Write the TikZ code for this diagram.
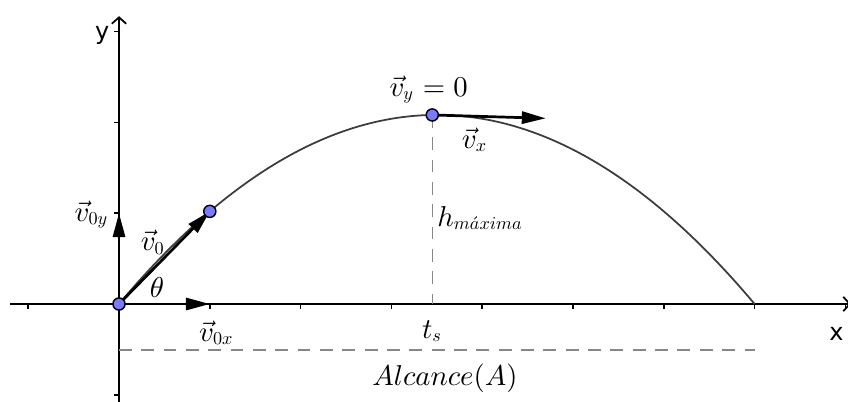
\documentclass[tikz,border=0pt]{standalone}
\usepackage[no-math]{fontspec}
\newfontfamily\axfont{DejaVu Sans}
\usetikzlibrary{arrows.meta}
\DeclareFontShape{OML}{cmm}{m}{it}{<->cmmi10}{}
\DeclareFontShape{OT1}{cmr}{m}{n}{<->cmr10}{}
\DeclareMathSizes{9}{9}{5.7}{4.5}
\definecolor{ptblue}{RGB}{122,122,255}
\definecolor{curvegray}{RGB}{60,60,60}
\definecolor{dashgray}{RGB}{135,135,135}
\tikzset{
  axis/.style={line width=0.55pt,black},
  axarrow/.style={-{Straight Barb[length=2pt,width=4.5pt,line width=0.55pt]}},
  tick/.style={line width=0.55pt,black},
  vec/.style={line width=0.85pt,black,-{Triangle[length=7.5pt,width=3.8pt]}},
  curve/.style={line width=0.55pt,curvegray},
  guide/.style={line width=0.45pt,dashgray,dash pattern=on 4pt off 3pt},
  pt/.style={circle,draw=black,line width=0.45pt,fill=ptblue,minimum size=3.8pt,inner sep=0pt},
  lab/.style={font=\fontsize{9}{11}\selectfont,inner sep=0pt},
  axlab/.style={font=\axfont\fontsize{7.5}{9}\selectfont,inner sep=0pt}
}
\begin{document}
\begin{tikzpicture}
\useasboundingbox (-1.3106,-1.0683) rectangle (8.0286,3.3480);
% axes
\coordinate (xl) at (-1.2,0);
\coordinate (xr) at (8.06,0);
\coordinate (yb) at (0,-1.1);
\coordinate (yt) at (0,3.17);
\draw[axis,axarrow] (xl) -- (xr);
\draw[axis,axarrow] (yb) -- (yt);
\foreach \i in {-1,1,2,3,4,5,6,7,8}{
  \draw[tick] (\i,0) -- (\i,-0.055);
}
\foreach \j in {-1,1,2,3}{
  \draw[tick] (0,\j) -- (-0.055,\j);
}
\node[axlab] (ylab) at (-0.185,2.96) {y};
\node[axlab] (xlab) at (7.90,-0.33) {x};
% key points
\coordinate (O) at (0,0);
\coordinate (P0) at (1,1.02);
\coordinate (Pk) at (3.45,2.082);
\coordinate (Vx) at (4.70,2.045);
\coordinate (V0y) at (0,1);
\coordinate (V0x) at (1,0);
\coordinate (Ts) at (3.45,0);
\coordinate (Ra) at (0,-0.507);
\coordinate (Rb) at (7.0,-0.507);
% guides
\draw[guide] (Pk) -- (Ts);
\draw[guide] (Ra) -- (Rb);
% trajectory
\draw[curve] plot[domain=0:7,samples=120,smooth] (\x,{0.17*\x*(7-\x)});
% vectors
\draw[vec] (O) -- (V0y);
\draw[vec] (O) -- (V0x);
\draw[vec] (O) -- (P0);
\draw[vec] (Pk) -- (Vx);
% points
\node[pt] (o) at (O) {};
\node[pt] (p0) at (P0) {};
\node[pt] (pk) at (Pk) {};
% labels
\node[lab] (lv0y) at (-0.30,0.99) {$\vec{v}_{0y}$};
\node[lab] (lv0) at (0.375,0.68) {$\vec{v}_{0}$};
\node[lab] (lth) at (0.42,0.18) {$\theta$};
\node[lab] (lv0x) at (1.075,-0.32) {$\vec{v}_{0x}$};
\node[lab] (lts) at (3.45,-0.30) {$t_s$};
\node[lab] (lvy) at (3.41,2.36) {$\vec{v}_y=0$};
\node[lab] (lvx) at (3.92,1.81) {$\vec{v}_x$};
\node[lab,anchor=west] (lh) at (3.50,0.95) {$h_{m\acute{a}xima}$};
\node[lab] (lA) at (3.59,-0.815) {$Alcance(A)$};
\end{tikzpicture}
\end{document}
